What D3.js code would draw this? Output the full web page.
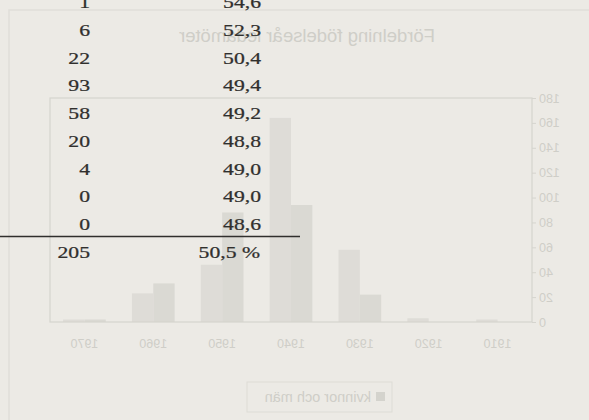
<!DOCTYPE html>
<html>
<head>
<meta charset="utf-8">
<script src="https://cdn.jsdelivr.net/npm/d3@7"></script>
<style>
    body { margin: 0; background: #eceae5; }
    svg { display: block; }
</style>
</head>
<body>
<div id="page"></div>
<script>
// table rows (front side of the page)
var rowCounts = [1, 6, 22, 93, 58, 20, 4, 0, 0];
var rowShares = ["54,6", "52,3", "50,4", "49,4", "49,2", "48,8", "49,0", "49,0", "48,6"];
var totalCount = "205";
var totalShare = "50,5 %";

// chart seen through the paper (back side, mirrored)
var chartTitle = "Fördelning födelseår ledamöter";
var years = ["1910", "1920", "1930", "1940", "1950", "1960", "1970"];
var seriesNames = ["kvinnor", "män"];
var seriesA = [0, 0, 22, 94, 88, 31, 2];
var seriesB = [2, 3, 58, 164, 46, 23, 2];
var yTicks = [0, 20, 40, 60, 80, 100, 120, 140, 160, 180];

var width = 589, height = 420;
var svg = d3.select("#page").append("svg")
        .attr("width", width)
        .attr("height", height);

svg.append("rect")
        .attr("width", width)
        .attr("height", height)
        .attr("fill", "#eceae5");

// ---- back side, flipped horizontally ----
var back = svg.append("g")
        .attr("transform", "translate(" + width + ",0) scale(-1,1)");

var faint = "#d5d4ce";
var faintText = "#cfcec8";

back.append("rect")
        .attr("x", -20)
        .attr("y", 10)
        .attr("width", 600)
        .attr("height", 430)
        .attr("fill", "none")
        .attr("stroke", "#dfded9")
        .attr("stroke-width", 1.5);

back.append("text")
        .attr("x", 282)
        .attr("y", 42)
        .attr("text-anchor", "middle")
        .attr("font-family", "Liberation Sans, Arial, sans-serif")
        .attr("font-size", 18.5)
        .attr("fill", faintText)
        .text(chartTitle);

var plot = {left: 57, right: 539, top: 98, bottom: 322};

var x0 = d3.scaleBand()
        .domain(years)
        .range([plot.left, plot.right])
        .paddingInner(0.38)
        .paddingOuter(0.19);

var x1 = d3.scaleBand()
        .domain(seriesNames)
        .range([0, x0.bandwidth()]);

var y = d3.scaleLinear()
        .domain([0, 180])
        .range([plot.bottom, plot.top]);

var color = d3.scaleOrdinal()
        .domain(seriesNames)
        .range(["#dad9d3", "#dedcd7"]);

var rows = years.map(function (yr, i) {
    return {year: yr, values: [
            {name: seriesNames[0], value: seriesA[i]},
            {name: seriesNames[1], value: seriesB[i]}
        ]};
});

var groups = back.selectAll(".grp")
        .data(rows)
        .enter().append("g")
        .attr("class", "grp")
        .attr("transform", function (d) {
            return "translate(" + x0(d.year) + ",0)";
        });

groups.selectAll("rect")
        .data(function (d) { return d.values; })
        .enter().append("rect")
        .attr("x", function (d) { return x1(d.name); })
        .attr("y", function (d) { return y(d.value); })
        .attr("width", x1.bandwidth())
        .attr("height", function (d) { return y(0) - y(d.value); })
        .attr("fill", function (d) { return color(d.name); });

back.append("rect")
        .attr("x", plot.left)
        .attr("y", plot.top)
        .attr("width", plot.right - plot.left)
        .attr("height", plot.bottom - plot.top)
        .attr("fill", "none")
        .attr("stroke", faint)
        .attr("stroke-width", 1.2);

var yAxis = back.append("g")
        .attr("transform", "translate(" + plot.left + ",0)")
        .call(d3.axisLeft(y).tickValues(yTicks).tickSize(4));
yAxis.select(".domain").remove();
yAxis.selectAll("line").attr("stroke", faint);
yAxis.selectAll("text")
        .attr("font-family", "Liberation Sans, Arial, sans-serif")
        .attr("font-size", 12.5)
        .attr("fill", faintText);

var xAxis = back.append("g")
        .attr("transform", "translate(0," + plot.bottom + ")")
        .call(d3.axisBottom(x0).tickSize(0).tickPadding(17));
xAxis.select(".domain").remove();
xAxis.selectAll("text")
        .attr("font-family", "Liberation Sans, Arial, sans-serif")
        .attr("font-size", 12.5)
        .attr("fill", faintText);

// legend
var legend = back.append("g")
        .attr("transform", "translate(197,382)");
legend.append("rect")
        .attr("width", 145)
        .attr("height", 30)
        .attr("fill", "none")
        .attr("stroke", "#dddcd6");
legend.append("rect")
        .attr("x", 7)
        .attr("y", 10)
        .attr("width", 9)
        .attr("height", 9)
        .attr("fill", "#d4d3cd");
legend.append("text")
        .attr("x", 21)
        .attr("y", 20)
        .attr("font-family", "Liberation Sans, Arial, sans-serif")
        .attr("font-size", 14.5)
        .attr("fill", faintText)
        .text(seriesNames[0] + " och " + seriesNames[1]);

// ---- front side: the table ----
var front = svg.append("g");
var rowY = d3.scaleLinear().domain([0, rowCounts.length - 1]).range([8, 230]);
var ink = "#302f2d";

function cell(x, yy, txt) {
    front.append("text")
            .attr("transform", "translate(" + x + "," + yy + ") scale(1.24,1)")
            .attr("text-anchor", "end")
            .attr("font-family", "Liberation Serif, Times New Roman, serif")
            .attr("font-size", 17.5)
            .attr("fill", ink)
            .attr("stroke", ink)
            .attr("stroke-width", 0.25)
            .text(txt);
}

rowCounts.forEach(function (v, i) {
    cell(90, rowY(i), v);
    cell(261, rowY(i), rowShares[i]);
});

front.append("line")
        .attr("x1", 0)
        .attr("x2", 300)
        .attr("y1", 236.5)
        .attr("y2", 236.5)
        .attr("stroke", ink)
        .attr("stroke-width", 1.5);

cell(90, 258, totalCount);
cell(260, 258, totalShare);
</script>
</body>
</html>
